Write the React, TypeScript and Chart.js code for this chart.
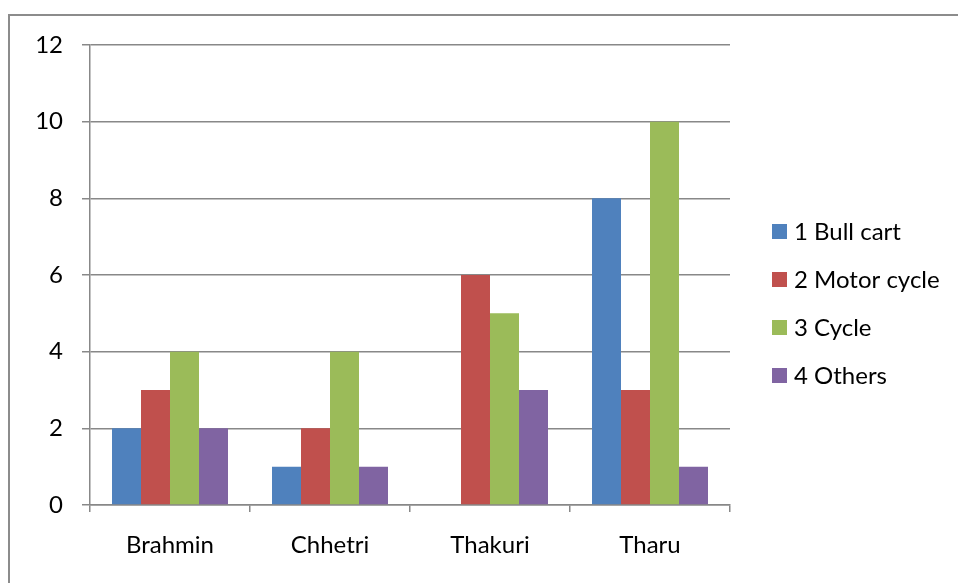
import { useEffect, useRef } from 'react';
import { Chart, registerables } from 'chart.js';

Chart.register(...registerables);

const categories = ['Brahmin', 'Chhetri', 'Thakuri', 'Tharu'];
const seriesNames = ['1 Bull cart', '2 Motor cycle', '3 Cycle', '4 Others'];
const bullCart = [2, 1, 0, 8];
const motorCycle = [3, 2, 6, 3];
const cycle = [4, 4, 5, 10];
const others = [2, 1, 3, 1];
const seriesColors = ['#4F81BD', '#C0504D', '#9BBB59', '#8064A2'];
const yMin = 0;
const yMax = 12;
const yStep = 2;

const FONT = 'Lato, "Open Sans", sans-serif';
const FONT_SIZE = 24;
const AXIS_COLOR = '#888888';

const legendPlugin = {
  id: 'customLegend',
  afterDraw(chart: any) {
    const ctx = chart.ctx;
    ctx.save();
    ctx.font = `${FONT_SIZE}px ${FONT}`;
    ctx.textBaseline = 'middle';
    ctx.textAlign = 'left';
    chart.data.datasets.forEach((ds: any, i: number) => {
      const cy = 231.5 + i * 48;
      ctx.fillStyle = ds.backgroundColor;
      ctx.fillRect(772, cy - 7.5, 15, 15);
      ctx.fillStyle = '#000000';
      ctx.fillText(ds.label, 794, cy + 1);
    });
    ctx.restore();
  },
};

export default function App() {
  const canvasRef = useRef<HTMLCanvasElement | null>(null);

  useEffect(() => {
    if (!canvasRef.current) return;
    const values = [bullCart, motorCycle, cycle, others];
    const chart = new Chart(canvasRef.current, {
      type: 'bar',
      data: {
        labels: categories,
        datasets: seriesNames.map((name, i) => ({
          label: name,
          data: values[i],
          backgroundColor: seriesColors[i],
          borderWidth: 0,
          categoryPercentage: 0.725,
          barPercentage: 1,
        })),
      },
      options: {
        animation: false,
        responsive: false,
        maintainAspectRatio: false,
        layout: { padding: { top: 45, right: 228, bottom: 0, left: 0 } },
        plugins: {
          legend: { display: false },
          tooltip: { enabled: false },
        },
        scales: {
          x: {
            grid: {
              display: true,
              drawOnChartArea: false,
              drawTicks: true,
              tickLength: 7,
              color: AXIS_COLOR,
              lineWidth: 1.5,
            },
            border: { display: true, color: AXIS_COLOR, width: 1.5 },
            ticks: {
              color: '#000000',
              font: { family: FONT, size: FONT_SIZE },
              padding: 19,
            },
            afterFit: (scale: any) => {
              scale.height = 78;
            },
          },
          y: {
            min: yMin,
            max: yMax,
            ticks: {
              stepSize: yStep,
              color: '#000000',
              font: { family: FONT, size: FONT_SIZE },
              padding: 19,
            },
            grid: {
              color: AXIS_COLOR,
              lineWidth: 1.5,
              tickLength: 8,
              drawTicks: true,
            },
            border: { display: true, color: AXIS_COLOR, width: 1.5 },
            afterFit: (scale: any) => {
              scale.width = 90;
            },
          },
        },
      },
      plugins: [legendPlugin],
    });
    return () => chart.destroy();
  }, []);

  return (
    <div
      style={{
        position: 'fixed',
        left: 0,
        top: 0,
        width: 958,
        height: 583,
        overflow: 'hidden',
        background: '#ffffff',
      }}
    >
      <div
        style={{
          position: 'absolute',
          left: 8,
          top: 14,
          width: 2000,
          height: 2000,
          border: '2px solid #8c8c8c',
        }}
      />
      <canvas
        ref={canvasRef}
        width={958}
        height={583}
        style={{ position: 'absolute', left: 0, top: 0, width: 958, height: 583 }}
      />
    </div>
  );
}
